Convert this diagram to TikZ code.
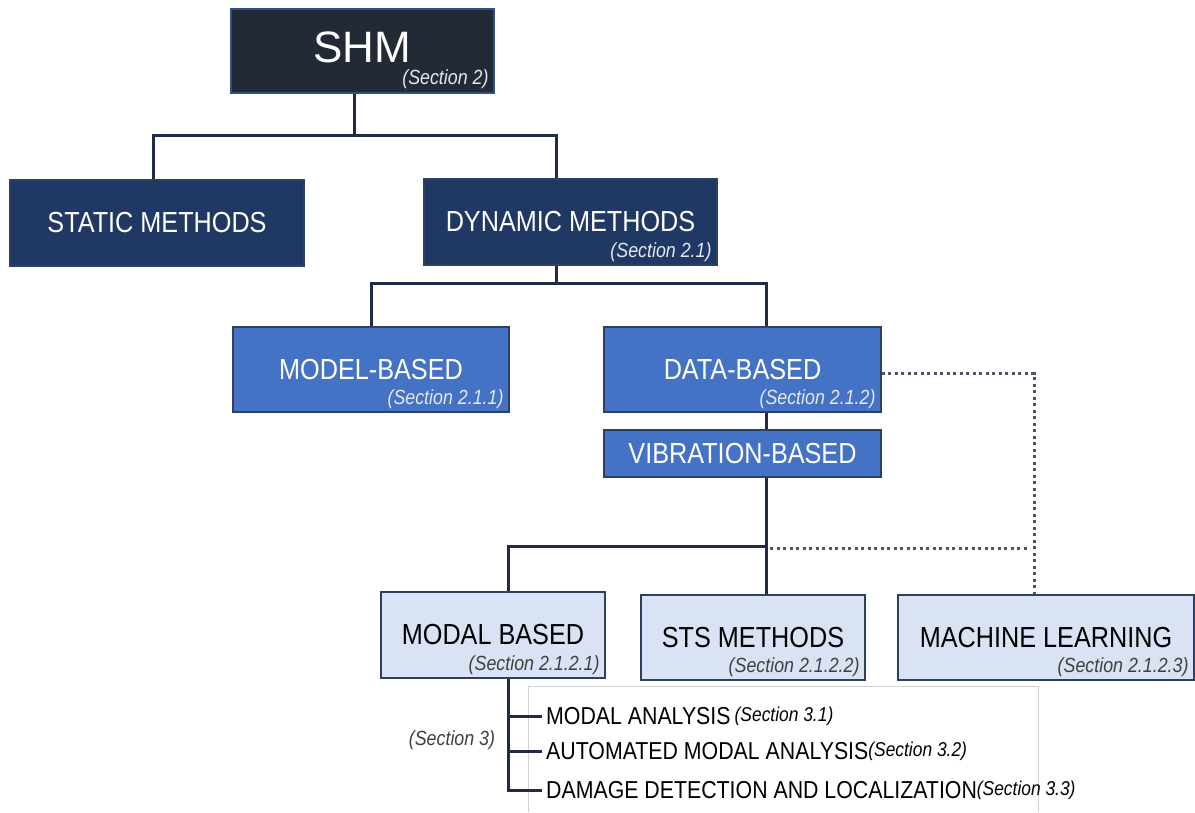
\documentclass[tikz,border=0pt]{standalone}
\usepackage{fontspec}
\setmainfont{Liberation Sans}
\newfontfamily\narrowsf[FakeStretch=0.87]{Liberation Sans}
\usetikzlibrary{positioning}

\definecolor{rootfill}{HTML}{222A35}
\definecolor{navyfill}{HTML}{203864}
\definecolor{midfill}{HTML}{4472C4}
\definecolor{palefill}{HTML}{DAE3F3}
\definecolor{linkcol}{HTML}{1F2B47}
\definecolor{framecol}{HTML}{2F3F5F}
\definecolor{seclight}{HTML}{E4E8F0}
\definecolor{secdark}{HTML}{404040}

\tikzset{
  box/.style={draw=framecol, line width=1.5pt, inner sep=0pt, align=center},
  rootbox/.style={box, draw=midfill!70!black, fill=rootfill, text=white,
    font=\fontsize{44}{50}\selectfont},
  navybox/.style={box, fill=navyfill, text=white, font=\fontsize{29}{34}\narrowsf},
  midbox/.style={box, fill=midfill, text=white, font=\fontsize{29}{34}\narrowsf},
  palebox/.style={box, fill=palefill, text=black, font=\fontsize{29}{34}\narrowsf},
  sec/.style={inner sep=1pt, anchor=south east, font=\fontsize{20.5}{24}\narrowsf\itshape},
  item/.style={anchor=west, inner sep=1pt, font=\fontsize{24.5}{28}\narrowsf},
  link/.style={draw=linkcol, line width=3pt},
  dots/.style={draw=linkcol!80, line width=3pt, dash pattern=on 3pt off 3.5pt}
}

\begin{document}
\begin{tikzpicture}[x=1pt, y=-1pt]
    \useasboundingbox[fill=white] (0,0) rectangle (1195,812);

    % --- Boxes, top to bottom ---
    \node[rootbox, minimum width=263, minimum height=84, text height=34, text depth=12] (shm) at (362.5,51) {SHM};
    \node[sec, text=seclight] at ([shift={(-5,-4)}]shm.south east) {(Section 2)};

    \node[navybox, minimum width=294, minimum height=86] (static) at (157,223) {STATIC METHODS};
    \node[navybox, minimum width=293, minimum height=86] (dynamic) at (570.5,222) {DYNAMIC METHODS};
    \node[sec, text=seclight] at ([shift={(-5,-3)}]dynamic.south east) {(Section 2.1)};

    \node[midbox, minimum width=276, minimum height=85] (model) at (371,369.5) {MODEL-BASED};
    \node[sec, text=seclight] at ([shift={(-5,-3)}]model.south east) {(Section 2.1.1)};
    \node[midbox, minimum width=277, minimum height=85] (data) at (742.5,369.5) {DATA-BASED};
    \node[sec, text=seclight] at ([shift={(-5,-3)}]data.south east) {(Section 2.1.2)};
    \node[midbox, minimum width=277, minimum height=47] (vib) at (742.5,453.5) {VIBRATION-BASED};

    \node[palebox, minimum width=224, minimum height=86] (modal) at (493,635) {MODAL BASED};
    \node[sec, text=secdark] at ([shift={(-5,-3)}]modal.south east) {(Section 2.1.2.1)};
    \node[palebox, minimum width=224, minimum height=85] (sts) at (753,637.5) {STS METHODS};
    \node[sec, text=secdark] at ([shift={(-5,-3)}]sts.south east) {(Section 2.1.2.2)};
    \node[palebox, minimum width=296, minimum height=85] (ml) at (1046,637.5) {MACHINE LEARNING};
    \node[sec, text=secdark] at ([shift={(-5,-3)}]ml.south east) {(Section 2.1.2.3)};

    % --- Tree connectors ---
    \draw[link] ([xshift=-8.5]shm.south) -- ++(0,42) coordinate (j1);
    \draw[link] ([xshift=-4]static.north) |- (j1) -| ([xshift=-14.5]dynamic.north);

    \draw[link] ([xshift=-14.5]dynamic.south) -- ++(0,18) coordinate (j2);
    \draw[link] (model.north) |- (j2) -| ([xshift=23.5]data.north);
    \draw[link] ([xshift=23.5]data.south) -- ([xshift=23.5]vib.north);

    \path ([xshift=23.5]vib.south) ++(0,69) coordinate (j3);
    \coordinate (mltop) at ([xshift=-12]ml.north);
    \draw[link] ([xshift=23.5]vib.south) -- ([xshift=13]sts.north);
    \draw[link] ([xshift=15]modal.north) |- (j3);

    % dotted branch to machine learning
    \draw[dots] ([yshift=-4]data.east) -| (mltop);
    \draw[dots] ([shift={(4,2)}]j3) -- ([shift={(-4,2)}]j3 -| mltop);

    % --- Section 3 list ---
    \draw[draw=black!18, line width=1pt] (528,812) |- (1038,686) -- (1038,812);
    \node[item] (ma) at (545,716) {MODAL ANALYSIS\,\raisebox{3pt}{\fontsize{20}{24}\narrowsf\itshape (Section 3.1)}};
    \node[item] (ama) at (545,751) {AUTOMATED MODAL ANALYSIS\raisebox{3pt}{\fontsize{20}{24}\narrowsf\itshape (Section 3.2)}};
    \node[item] (ddl) at (545,790) {DAMAGE DETECTION AND LOCALIZATION\raisebox{3pt}{\fontsize{20}{24}\narrowsf\itshape (Section 3.3)}};
    \node[font=\fontsize{20.5}{24}\narrowsf\itshape, text=secdark] (s3) at (452,740) {(Section 3)};

    \coordinate (br) at ([xshift=15]modal.south);
    \draw[link] (br) |- ([xshift=-3]ddl.west);
    \draw[link] (ma.west -| br) -- ([xshift=-3]ma.west);
    \draw[link] (ama.west -| br) -- ([xshift=-3]ama.west);

\end{tikzpicture}
\end{document}
